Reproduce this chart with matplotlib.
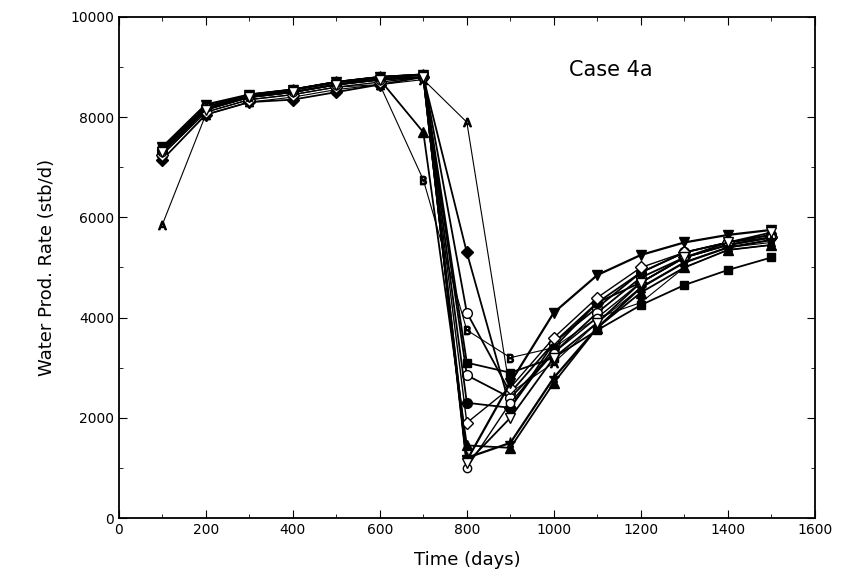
import matplotlib
matplotlib.use("Agg")
from matplotlib import pyplot as plt
from matplotlib.ticker import MultipleLocator

# time axis (days)
days = [100, 200, 300, 400, 500, 600, 700, 800, 900, 1000, 1100, 1200, 1300, 1400, 1500]

# water production rate (stb/d) for each run
run_A = [5850, 8050, 8300, 8400, 8550, 8650, 8750, 7900, 2500, 3100, 3900, 4600, 5100, 5400, 5500]
run_B = [7250, 8100, 8350, 8450, 8600, 8650, 6750, 3750, 3200, 3400, 4000, 4300, 5000, 5350, 5450]
run_diamond = [7150, 8050, 8300, 8350, 8500, 8650, 8800, 5300, 2200, 3500, 4300, 4700, 5200, 5450, 5600]
run_triangle = [7300, 8150, 8400, 8500, 8650, 8750, 7700, 1450, 1400, 2700, 3800, 4500, 5000, 5350, 5450]
run_circle_hi = [7350, 8200, 8400, 8550, 8700, 8750, 8850, 4100, 2500, 3500, 4200, 4900, 5300, 5500, 5650]
run_square = [7400, 8200, 8450, 8550, 8700, 8800, 8850, 3100, 2900, 3200, 3750, 4250, 4650, 4950, 5200]
run_circle_mid = [7300, 8150, 8400, 8500, 8650, 8750, 8800, 2850, 2400, 3300, 4100, 4800, 5200, 5450, 5600]
run_dot = [7350, 8200, 8450, 8550, 8700, 8800, 8850, 2300, 2200, 3400, 4300, 4900, 5300, 5500, 5650]
run_diamond_open = [7250, 8100, 8350, 8450, 8600, 8700, 8800, 1900, 2600, 3600, 4400, 5000, 5300, 5500, 5600]
run_hourglass = [7400, 8250, 8450, 8550, 8700, 8800, 8850, 1150, 2700, 4100, 4850, 5250, 5500, 5650, 5750]
run_circle_lo = [7300, 8200, 8400, 8500, 8650, 8750, 8800, 1000, 2300, 3300, 4000, 4700, 5200, 5450, 5600]
run_star = [7350, 8200, 8400, 8550, 8700, 8800, 8850, 1200, 1500, 2800, 3800, 4600, 5100, 5400, 5550]
run_tri_down = [7300, 8150, 8400, 8500, 8650, 8750, 8800, 1100, 2000, 3200, 3900, 4700, 5200, 5500, 5700]

series = [
    (run_A, r'$\mathrm{A}$', 'k', 0.8, 6),
    (run_B, r'$\mathrm{B}$', 'k', 0.8, 6),
    (run_diamond, 'D', 'k', 1.3, 6),
    (run_triangle, '^', 'k', 1.3, 7),
    (run_circle_hi, 'o', 'w', 1.3, 7),
    (run_square, 's', 'k', 1.3, 6),
    (run_circle_mid, 'o', 'w', 1.3, 7),
    (run_dot, 'o', 'k', 1.3, 7),
    (run_diamond_open, 'D', 'w', 1.0, 6),
    (run_hourglass, 'v', 'k', 1.6, 7),
    (run_circle_lo, 'o', 'w', 1.0, 6),
    (run_star, '*', 'k', 1.6, 8),
    (run_tri_down, 'v', 'w', 1.3, 7),
]

fig = plt.figure(figsize=(8.48, 5.85), dpi=100)
ax = fig.add_axes([0.140, 0.1145, 0.821, 0.8565])

for vals, mk, fc, lw, ms in series:
    ax.plot(days, vals, color='k', lw=lw, marker=mk, markersize=ms,
            markerfacecolor=fc, markeredgecolor='k', markeredgewidth=1.0)

ax.set_xlim(0, 1600)
ax.set_ylim(0, 10000)
ax.xaxis.set_major_locator(MultipleLocator(200))
ax.xaxis.set_minor_locator(MultipleLocator(100))
ax.yaxis.set_major_locator(MultipleLocator(2000))
ax.yaxis.set_minor_locator(MultipleLocator(1000))
ax.tick_params(which='both', direction='in', top=True, right=True, labelsize=10)
ax.tick_params(which='major', length=6)
ax.tick_params(which='minor', length=3)
for s in ax.spines.values():
    s.set_linewidth(1.3)

ax.set_xlabel("Time (days)", fontsize=13, labelpad=10)
ax.set_ylabel("Water Prod. Rate (stb/d)", fontsize=13, labelpad=10)
ax.text(1130, 8950, "Case 4a", fontsize=15, ha='center', va='center')

fig.savefig("out.png", dpi=100)
